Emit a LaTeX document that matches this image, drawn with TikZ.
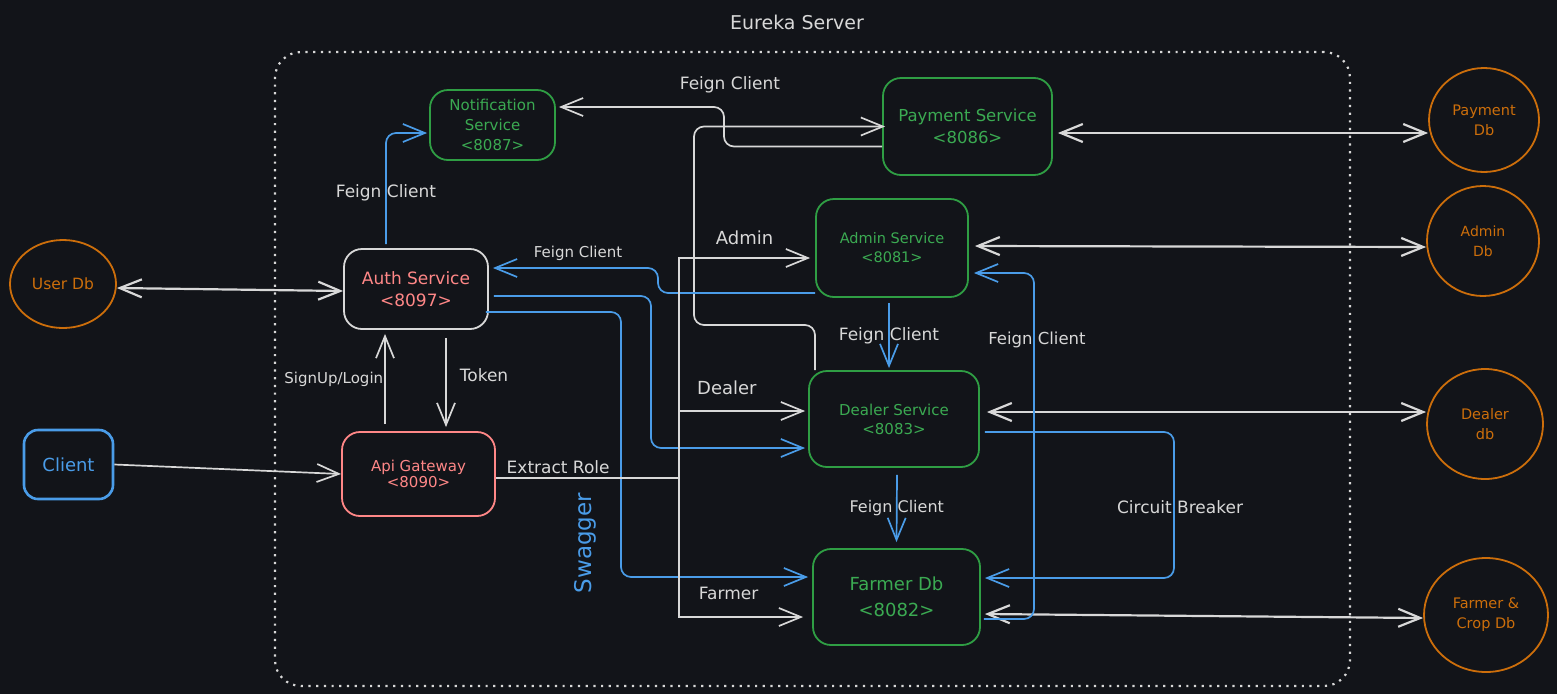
\documentclass[tikz,border=0pt]{standalone}
\usepackage{fontspec}
\setmainfont{DejaVu Sans}
\usepackage{tikz}
\usetikzlibrary{arrows.meta,shapes.geometric}
\definecolor{bgdark}{HTML}{121419}
\definecolor{lineW}{HTML}{D8D8D8}
\definecolor{svcG}{HTML}{2F9E44}
\definecolor{txtG}{HTML}{3BAA52}
\definecolor{gwR}{HTML}{FF8787}
\definecolor{lineB}{HTML}{4A9CE8}
\definecolor{dbO}{HTML}{CC6E0B}
\newcommand{\fsz}[2]{\fontsize{#1}{#2}\selectfont}
\tikzset{
  >={Straight Barb[length=22pt,width=18pt]},
  svc/.style={draw=svcG,text=txtG,line width=1.8pt,rounded corners=18pt,align=center,inner sep=2pt},
  gate/.style={draw=gwR,text=gwR,line width=1.8pt,rounded corners=18pt,align=center,inner sep=2pt},
  clientbox/.style={draw=lineB,text=lineB,line width=2.6pt,rounded corners=14pt,align=center},
  dbnode/.style={ellipse,draw=dbO,text=dbO,line width=1.8pt,align=center,inner sep=0pt},
  lbl/.style={text=lineW,font=\fsz{17}{20},inner sep=1pt},
  wline/.style={draw=lineW,line width=1.7pt},
  warr/.style={draw=lineW,line width=1.7pt,->},
  wboth/.style={draw=lineW,line width=2.2pt,<->},
  barr/.style={draw=lineB,line width=1.7pt,->,rounded corners=10pt},
  frame/.style={draw=lineW,line width=2.2pt,dash pattern=on 2.2pt off 5.5pt,rounded corners=26pt}
}

\begin{document}
\begin{tikzpicture}[x=1pt,y=-1pt]
\fill[bgdark] (0,0) rectangle (1557,694);
\useasboundingbox (0,0) rectangle (1557,694);

% eureka container
\node[frame,minimum width=1075pt,minimum height=634pt] (eureka) at (812.5,369) {};
\node[lbl,font=\fsz{19}{22}] (eurekalbl) at (797,22) {Eureka Server};

% services
\node[svc,font=\fsz{15}{20},minimum width=125pt,minimum height=70pt] (notif) at (492.5,125) {Notification\\Service\\<8087>};
\node[svc,font=\fsz{16.5}{22},minimum width=169pt,minimum height=97pt] (pay) at (967.5,126.5) {Payment Service\\<8086>};
\node[svc,font=\fsz{14.5}{19},minimum width=152pt,minimum height=98pt] (admin) at (892,248) {Admin Service\\<8081>};
\node[svc,font=\fsz{15}{19},minimum width=170pt,minimum height=96pt] (dealer) at (894,419) {Dealer Service\\<8083>};
\node[svc,font=\fsz{18}{26},minimum width=167pt,minimum height=96pt] (farmer) at (896.5,597) {Farmer Db\\<8082>};
\node[gate,draw=lineW,font=\fsz{17}{22},minimum width=144pt,minimum height=80pt] (auth) at (416,289) {Auth Service\\<8097>};
\node[gate,font=\fsz{15}{16.5},minimum width=153pt,minimum height=84pt] (gw) at (418.5,474) {Api Gateway\\<8090>};
\node[clientbox,font=\fsz{18}{22},minimum width=89pt,minimum height=69pt] (client) at (68.5,464.5) {Client};

% databases
\node[dbnode,font=\fsz{15.5}{19},minimum width=106pt,minimum height=88pt] (userdb) at (63,284) {User Db};
\node[dbnode,font=\fsz{14.5}{20},minimum width=110pt,minimum height=104pt] (paydb) at (1484,120) {Payment\\Db};
\node[dbnode,font=\fsz{14}{20},minimum width=112pt,minimum height=110pt] (admindb) at (1483,241) {Admin\\Db};
\node[dbnode,font=\fsz{14.5}{20},minimum width=116pt,minimum height=110pt] (dealerdb) at (1485,424) {Dealer\\db};
\node[dbnode,font=\fsz{14.5}{20},minimum width=124pt,minimum height=114pt] (cropdb) at (1486,615) {Farmer \&\\Crop Db};

% db links
\draw[wboth] ([yshift=-4pt]userdb.east) -- ([yshift=-2pt]auth.west);
\draw[wboth] ([xshift=5pt,yshift=-6.5pt]pay.east) -- ([yshift=-13pt]paydb.west);
\draw[wboth] ([xshift=6pt,yshift=2pt]admin.east) -- ([yshift=-6pt]admindb.west);
\draw[wboth] ([xshift=7pt,yshift=7pt]dealer.east) -- ([yshift=12pt]dealerdb.west);
\draw[wboth] ([xshift=4pt,yshift=-17pt]farmer.east) -- ([yshift=-3pt]cropdb.west);

% entry
\draw[warr] (client.east) -- (gw.west);
\draw[warr] ([xshift=-33.5pt,yshift=7pt]gw.north) -- node[lbl,left,font=\fsz{15}{18}]{SignUp/Login} ([xshift=-31pt,yshift=-4pt]auth.south);
\draw[warr] ([xshift=30pt,yshift=-8pt]auth.south) -- node[lbl,right=12pt,pos=0.42]{Token} ([xshift=27.5pt,yshift=4pt]gw.north);

% feign calls
\draw[barr] ([xshift=-30pt,yshift=4pt]auth.north) |- node[lbl,pos=0.23]{Feign Client} ([xshift=-2pt,yshift=-8pt]notif.west);
\draw[warr,rounded corners=10pt] ([yshift=-20pt]pay.west) -| (724,107) -- ([xshift=3pt,yshift=18pt]notif.east);
\node[lbl] (fcpay) at (730,85) {Feign Client};
\draw[warr,rounded corners=10pt] ([xshift=-79pt]dealer.north) |- (694,325) |- ([xshift=3pt]pay.west);
\draw[barr] ([yshift=-45pt]admin.west) -| (658,268) -- ([xshift=4pt,yshift=21pt]auth.east);
\node[lbl,font=\fsz{15}{18}] (fcauth) at (578,253) {Feign Client};
\draw[barr] ([xshift=5pt,yshift=-7pt]auth.east) -| (651,448) -- ([xshift=-3pt,yshift=-29pt]dealer.west);
\draw[barr] ([xshift=-3pt,yshift=-23pt]auth.east) -| (621,577) -- ([xshift=-4pt,yshift=20pt]farmer.west);
\node[text=lineB,font=\fsz{23}{26},rotate=90] (swagger) at (585,543) {Swagger};

% role routing
\coordinate (split) at (679,478);
\draw[wline] ([yshift=-4pt]gw.east) -- node[lbl,above=2pt,pos=0.34]{Extract Role} (split);
\draw[warr] (split) |- node[lbl,pos=0.75,above=11pt,font=\fsz{18}{20}]{Admin} ([xshift=-5pt,yshift=-10pt]admin.west);
\draw[warr] (split) |- node[lbl,pos=0.69,above=14pt,font=\fsz{18}{20}]{Dealer} ([xshift=-3pt,yshift=8pt]dealer.west);
\draw[warr] (split) |- node[lbl,pos=0.70,above=15pt]{Farmer} ([xshift=-9pt,yshift=-20pt]farmer.west);

\draw[barr] ([xshift=-3pt,yshift=-5pt]admin.south) -- node[lbl]{Feign Client} ([xshift=-5pt,yshift=2pt]dealer.north);
\draw[barr] ([xshift=3pt,yshift=-7pt]dealer.south) -- node[lbl,font=\fsz{16}{19}]{Feign Client} ([yshift=6pt]farmer.north);
\draw[barr] ([xshift=3pt,yshift=-22pt]farmer.east) -| (1034,273) -- ([xshift=5pt,yshift=-25pt]admin.east);
\node[lbl,font=\fsz{16.5}{19}] (fcadmin) at (1037,340) {Feign Client};
\draw[barr] ([xshift=5pt,yshift=-13pt]dealer.east) -| (1174,578) -- ([xshift=4pt,yshift=19pt]farmer.east);
\node[lbl] (cbreak) at (1180,507) {Circuit Breaker};
\end{tikzpicture}
\end{document}
